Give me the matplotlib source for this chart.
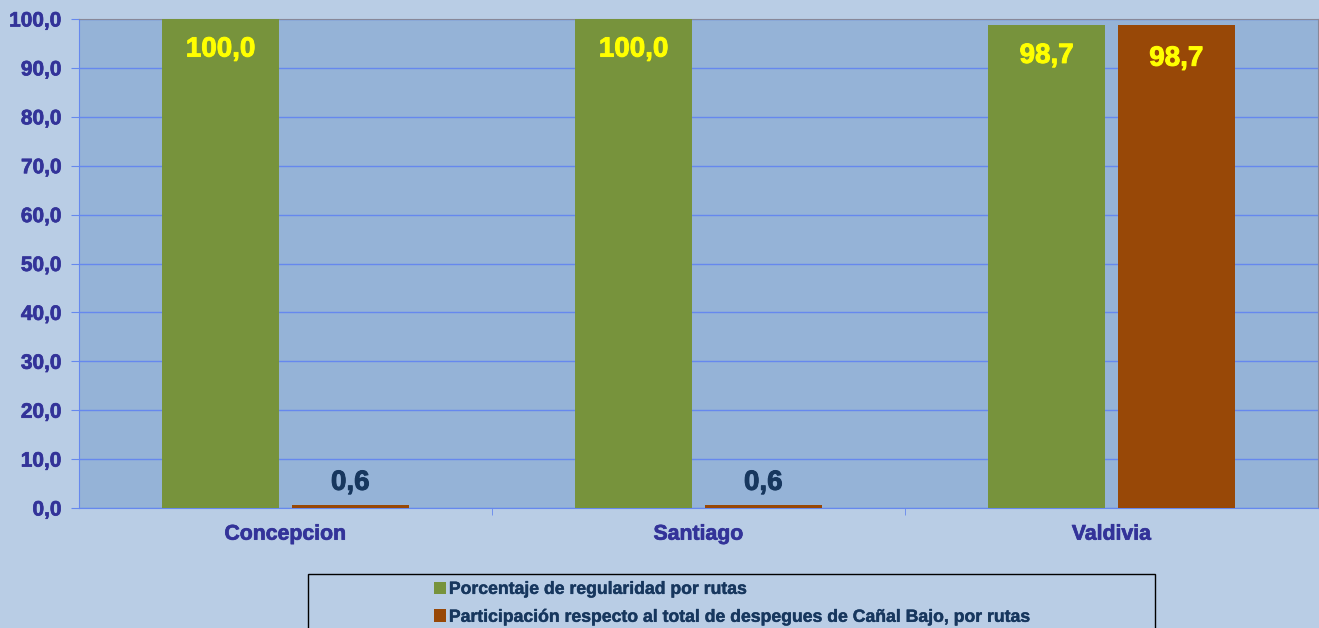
import matplotlib
matplotlib.use("Agg")
import matplotlib.pyplot as plt
import matplotlib.patheffects as pe
import numpy as np
from matplotlib.patches import Rectangle, Patch

categories = ["Concepcion", "Santiago", "Valdivia"]
regularidad = [100.0, 100.0, 98.7]
participacion = [0.6, 0.6, 98.7]
series_labels = ["Porcentaje de regularidad por rutas",
                 "Participación respecto al total de despegues de Cañal Bajo, por rutas"]
yticks = [0, 10, 20, 30, 40, 50, 60, 70, 80, 90, 100]

green = "#77933C"
brown = "#984807"
fig_bg = "#B9CDE5"
ax_bg = "#95B3D7"
grid_c = "#6688EE"
tick_c = "#333399"
navy = "#17375E"

plt.rcParams['font.family'] = 'Liberation Sans'
plt.rcParams['font.weight'] = 'bold'

def heavy(c, lw=0.7):
    return [pe.withStroke(linewidth=lw, foreground=c)]

fig = plt.figure(figsize=(13.19, 6.28), dpi=100, facecolor=fig_bg)
ax = fig.add_axes([79/1319, 1-508/628, (1318-79)/1319, (508-19)/628])
ax.set_facecolor(ax_bg)

x = np.arange(len(categories))
w = 0.283
off = 0.157
b1 = ax.bar(x - off, regularidad, w, color=green, zorder=3)
b2 = ax.bar(x + off, participacion, w, color=brown, zorder=3)

ax.set_xlim(-0.5, 2.5)
ax.set_ylim(0, 100)
ax.set_yticks(yticks)
ax.set_yticklabels([f"{v:.1f}".replace(".", ",") for v in yticks],
                   fontsize=15, fontweight='bold', color=tick_c)
ax.yaxis.grid(True, color=grid_c, linewidth=1, zorder=1)
ax.set_axisbelow(True)
ax.set_xticks(x)
ax.set_xticklabels(categories, fontsize=15.3, fontweight='bold', color=tick_c)
ax.set_xticks([0.5, 1.5], minor=True)
ax.tick_params(axis='x', which='major', length=0, pad=12)
ax.tick_params(axis='x', which='minor', length=5, color=grid_c)
ax.tick_params(axis='y', length=6, color=grid_c, pad=6.5)
for t in ax.get_yticklabels() + ax.get_xticklabels():
    t.set_path_effects(heavy(tick_c, 0.5))

for s in ['top', 'right']:
    ax.spines[s].set_color('#888899')
ax.spines['left'].set_color(grid_c)
ax.spines['bottom'].set_color(grid_c)

for rect, v in zip(b1, regularidad):
    ax.annotate(f"{v:.1f}".replace(".", ","), (rect.get_x() + rect.get_width()/2, v),
                xytext=(0, -22), textcoords='offset points', ha='center', va='center',
                fontsize=20, fontweight='bold', color='yellow', zorder=5,
                path_effects=heavy('yellow'))
for rect, v in zip(b2, participacion):
    lab = f"{v:.1f}".replace(".", ",")
    if v > 50:
        ax.annotate(lab, (rect.get_x() + rect.get_width()/2, v),
                    xytext=(0, -24), textcoords='offset points', ha='center', va='center',
                    fontsize=20, fontweight='bold', color='yellow', zorder=5,
                    path_effects=heavy('yellow'))
    else:
        ax.annotate(lab, (rect.get_x() + rect.get_width()/2, v),
                    xytext=(0, 16), textcoords='offset points', ha='center', va='center',
                    fontsize=20, fontweight='bold', color=navy, zorder=5,
                    path_effects=heavy(navy))

# legend frame
fig.patches.append(Rectangle((308/1319, -0.05), (1155-308)/1319, 0.05 + 1-574/628,
                             transform=fig.transFigure, facecolor='none',
                             edgecolor='black', linewidth=1))
handles = [Patch(facecolor=green), Patch(facecolor=brown)]
leg = fig.legend(handles, series_labels, loc='upper left',
                 bbox_to_anchor=(418/1319, 1-565/628), frameon=False,
                 handlelength=0.7, handleheight=0.7, handletextpad=0.15,
                 labelspacing=0.62, borderpad=0.4,
                 prop={'size': 12.7, 'weight': 'bold', 'family': 'Liberation Sans'})
for t in leg.get_texts():
    t.set_color(navy)
    t.set_path_effects(heavy(navy, 0.3))

fig.savefig("out.png", dpi=100, facecolor=fig_bg)
